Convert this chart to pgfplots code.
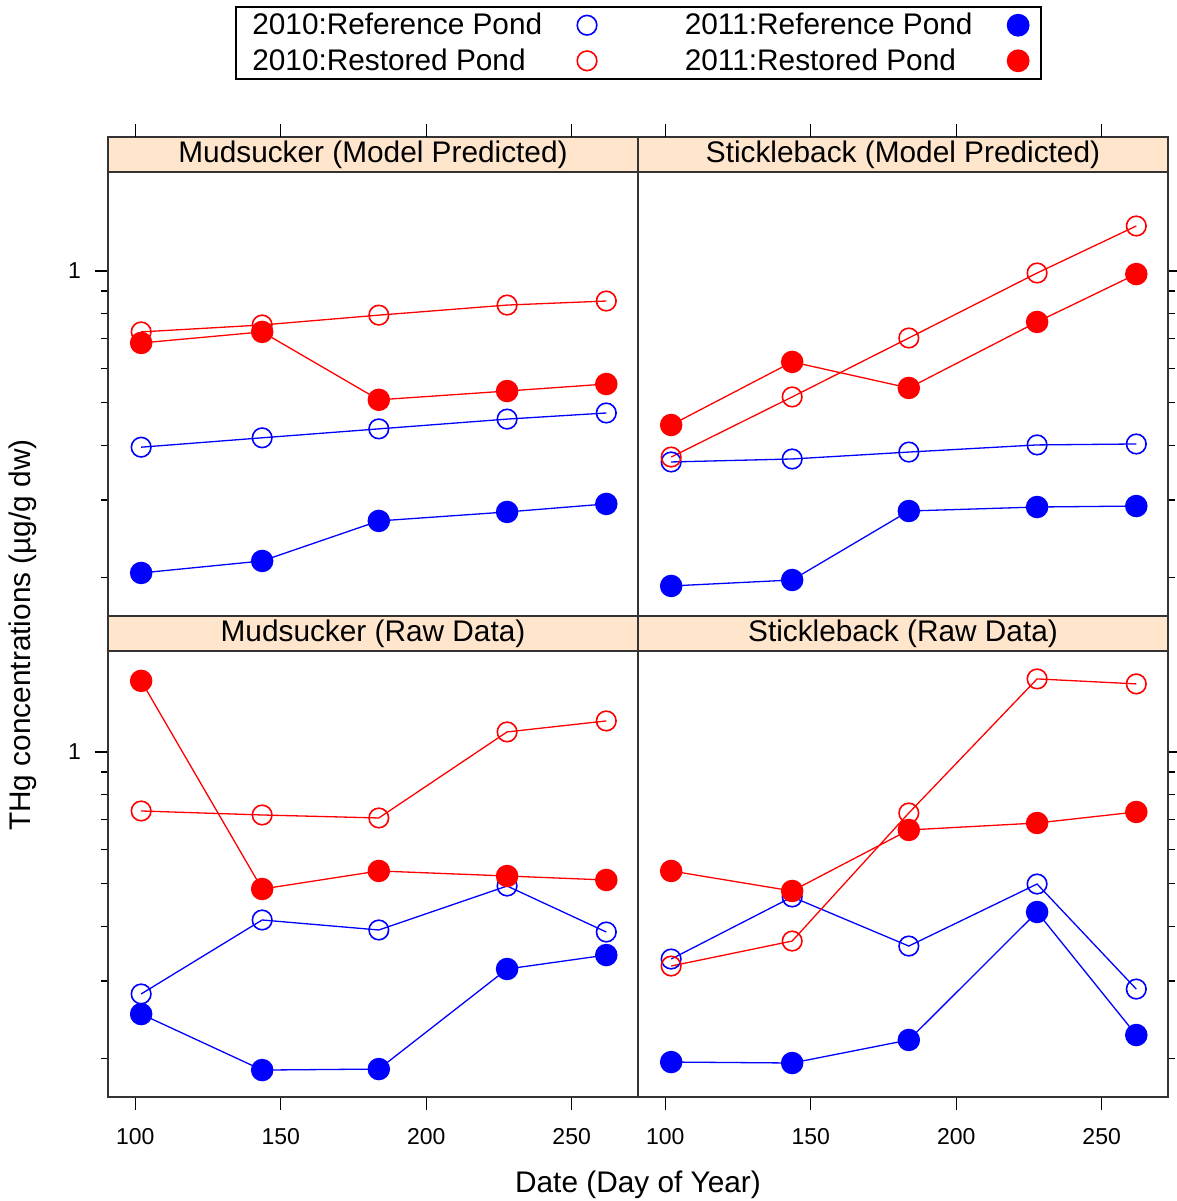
\documentclass[border=0pt]{standalone}
\usepackage{fontspec}
\setmainfont{Liberation Sans}
\usepackage{pgfplots}
\pgfplotsset{compat=1.18}
\definecolor{stripcol}{HTML}{FFE5CC}
\definecolor{rblue}{RGB}{0,0,255}
\definecolor{rred}{RGB}{255,0,0}

\pgfplotsset{
  myBase/.style={
    scale only axis, width=265pt,
    xmin=90.6, xmax=272.8,
    axis line style={black!80, line width=0.7pt},
    tick align=outside, major tick length=6.5pt, minor tick length=3.5pt,
    tick style={black, line width=0.6pt},
    clip=false,
    tick label style={font=\fontsize{11.5}{13}\selectfont},
    xticklabel style={yshift=-5.5pt},
    yticklabel style={xshift=-3.5pt},
  },
}
\tikzset{
  sRefO/.style={rblue, line width=0.65pt, mark=o, mark size=4.9pt, mark options={line width=0.8pt}},
  sRefF/.style={rblue, line width=0.65pt, mark=*, mark size=5.3pt, mark options={fill=rblue, draw=rblue}},
  sResO/.style={rred, line width=0.65pt, mark=o, mark size=4.9pt, mark options={line width=0.8pt}},
  sResF/.style={rred, line width=0.65pt, mark=*, mark size=5.3pt, mark options={fill=rred, draw=rred}},
}
\newcommand{\striptext}{\fontsize{14.9}{17}\selectfont}
\newcommand{\panelstrip}[1]{%
  \draw[black!80, line width=0.7pt, fill=stripcol] (rel axis cs:0,1) rectangle ([yshift=17.5pt]rel axis cs:1,1);
  \node[font=\striptext] at ([yshift=8.75pt]rel axis cs:0.5,1) {#1};
}
\newcommand{\topticks}{%
  \draw[black, line width=0.6pt] ([yshift=17.5pt]axis cs:100,1.683) -- ([yshift=24pt]axis cs:100,1.683);
  \draw[black, line width=0.6pt] ([yshift=17.5pt]axis cs:150,1.683) -- ([yshift=24pt]axis cs:150,1.683);
  \draw[black, line width=0.6pt] ([yshift=17.5pt]axis cs:200,1.683) -- ([yshift=24pt]axis cs:200,1.683);
  \draw[black, line width=0.6pt] ([yshift=17.5pt]axis cs:250,1.683) -- ([yshift=24pt]axis cs:250,1.683);
}

\begin{document}
\begin{tikzpicture}
\useasboundingbox (0,0) rectangle (588.5pt,600.5pt);

% Top-left: Mudsucker (Model Predicted)
\begin{axis}[myBase, ymode=log, height=222pt, ymin=0.163, ymax=1.683, xtick=\empty,
  ytick={1}, yticklabels={1}, minor ytick={0.2,0.3,0.4,0.5,0.6,0.7,0.8,0.9}, ytick pos=left,
  at={(54pt,292.5pt)}, anchor=south west,
  legend columns=2, legend plot pos=right, legend cell align=left,
  legend style={at={(1.001,1.2905)}, anchor=center, draw=black, line width=0.8pt,
    font=\fontsize{14.9}{17}\selectfont, inner xsep=6pt, inner ysep=1pt, row sep=1.5pt},
  ]
\addlegendimage{only marks, mark=o, rblue, mark size=4.9pt, line width=0.8pt}
\addlegendentry{2010:Reference Pond\rule{15.5pt}{0pt}}
\addlegendimage{only marks, mark=*, rblue, mark size=5.3pt}
\addlegendentry{\rule{42pt}{0pt}2011:Reference Pond\rule{15.5pt}{0pt}}
\addlegendimage{only marks, mark=o, rred, mark size=4.9pt, line width=0.8pt}
\addlegendentry{2010:Restored Pond}
\addlegendimage{only marks, mark=*, rred, mark size=5.3pt}
\addlegendentry{\rule{42pt}{0pt}2011:Restored Pond}
\addplot[sRefO, forget plot] coordinates {(102,0.396) (143.6,0.416) (183.7,0.436) (227.8,0.459) (261.9,0.474)};
\addplot[sRefF, forget plot] coordinates {(102,0.2044) (143.6,0.2177) (183.7,0.2687) (227.8,0.2817) (261.9,0.2938)};
\addplot[sResO, forget plot] coordinates {(102,0.726) (143.6,0.753) (183.7,0.793) (227.8,0.836) (261.9,0.854)};
\addplot[sResF, forget plot] coordinates {(102,0.685) (143.6,0.726) (183.7,0.508) (227.8,0.532) (261.9,0.552)};
\panelstrip{Mudsucker (Model Predicted)}
\topticks
\end{axis}

% Top-right: Stickleback (Model Predicted)
\begin{axis}[myBase, ymode=log, height=222pt, ymin=0.163, ymax=1.683, xtick=\empty,
  ytick={1}, yticklabels={\phantom{1}}, minor ytick={0.2,0.3,0.4,0.5,0.6,0.7,0.8,0.9}, ytick pos=right,
  at={(319pt,292.5pt)}, anchor=south west]
\addplot[sRefO] coordinates {(102,0.3664) (143.6,0.3722) (183.7,0.386) (227.8,0.4007) (261.9,0.4027)};
\addplot[sRefF] coordinates {(102,0.1909) (143.6,0.197) (183.7,0.2831) (227.8,0.2891) (261.9,0.2906)};
\addplot[sResO] coordinates {(102,0.376) (143.6,0.5157) (183.7,0.7031) (227.8,0.9895) (261.9,1.267)};
\addplot[sResF] coordinates {(102,0.445) (143.6,0.62) (183.7,0.5406) (227.8,0.765) (261.9,0.984)};
\panelstrip{Stickleback (Model Predicted)}
\topticks
\end{axis}

% Bottom-left: Mudsucker (Raw Data)
\begin{axis}[myBase, ymode=log, height=223pt, ymin=0.1631, ymax=1.70,
  xtick={100,150,200,250}, xticklabels={100,150,200,250}, xtick pos=bottom,
  ytick={1}, yticklabels={1}, minor ytick={0.2,0.3,0.4,0.5,0.6,0.7,0.8,0.9}, ytick pos=left,
  at={(54pt,52pt)}, anchor=south west]
\addplot[sRefO] coordinates {(102,0.2803) (143.6,0.4135) (183.7,0.3924) (227.8,0.4943) (261.9,0.3882)};
\addplot[sRefF] coordinates {(102,0.2522) (143.6,0.1879) (183.7,0.1889) (227.8,0.3196) (261.9,0.3439)};
\addplot[sResO] coordinates {(102,0.7333) (143.6,0.7181) (183.7,0.7068) (227.8,1.111) (261.9,1.177)};
\addplot[sResF] coordinates {(102,1.453) (143.6,0.4866) (183.7,0.535) (227.8,0.521) (261.9,0.5102)};
\panelstrip{Mudsucker (Raw Data)}
\end{axis}

% Bottom-right: Stickleback (Raw Data)
\begin{axis}[myBase, ymode=log, height=223pt, ymin=0.1631, ymax=1.70,
  xtick={100,150,200,250}, xticklabels={100,150,200,250}, xtick pos=bottom,
  ytick={1}, yticklabels={\phantom{1}}, minor ytick={0.2,0.3,0.4,0.5,0.6,0.7,0.8,0.9}, ytick pos=right,
  at={(319pt,52pt)}, anchor=south west]
\addplot[sRefO] coordinates {(102,0.3368) (143.6,0.4667) (183.7,0.3606) (227.8,0.4995) (261.9,0.2876)};
\addplot[sRefF] coordinates {(102,0.196) (143.6,0.195) (183.7,0.2201) (227.8,0.4312) (261.9,0.2259)};
\addplot[sResO] coordinates {(102,0.3246) (143.6,0.3702) (183.7,0.7256) (227.8,1.468) (261.9,1.43)};
\addplot[sResF] coordinates {(102,0.535) (143.6,0.4816) (183.7,0.6636) (227.8,0.6884) (261.9,0.7295)};
\panelstrip{Stickleback (Raw Data)}
\end{axis}

\node[font=\fontsize{14.9}{17}\selectfont] at (319pt,8pt) {Date (Day of Year)};
\node[font=\fontsize{14.9}{17}\selectfont, rotate=90] at (11.5pt,283pt) {THg concentrations (µg/g dw)};
\end{tikzpicture}
\end{document}
